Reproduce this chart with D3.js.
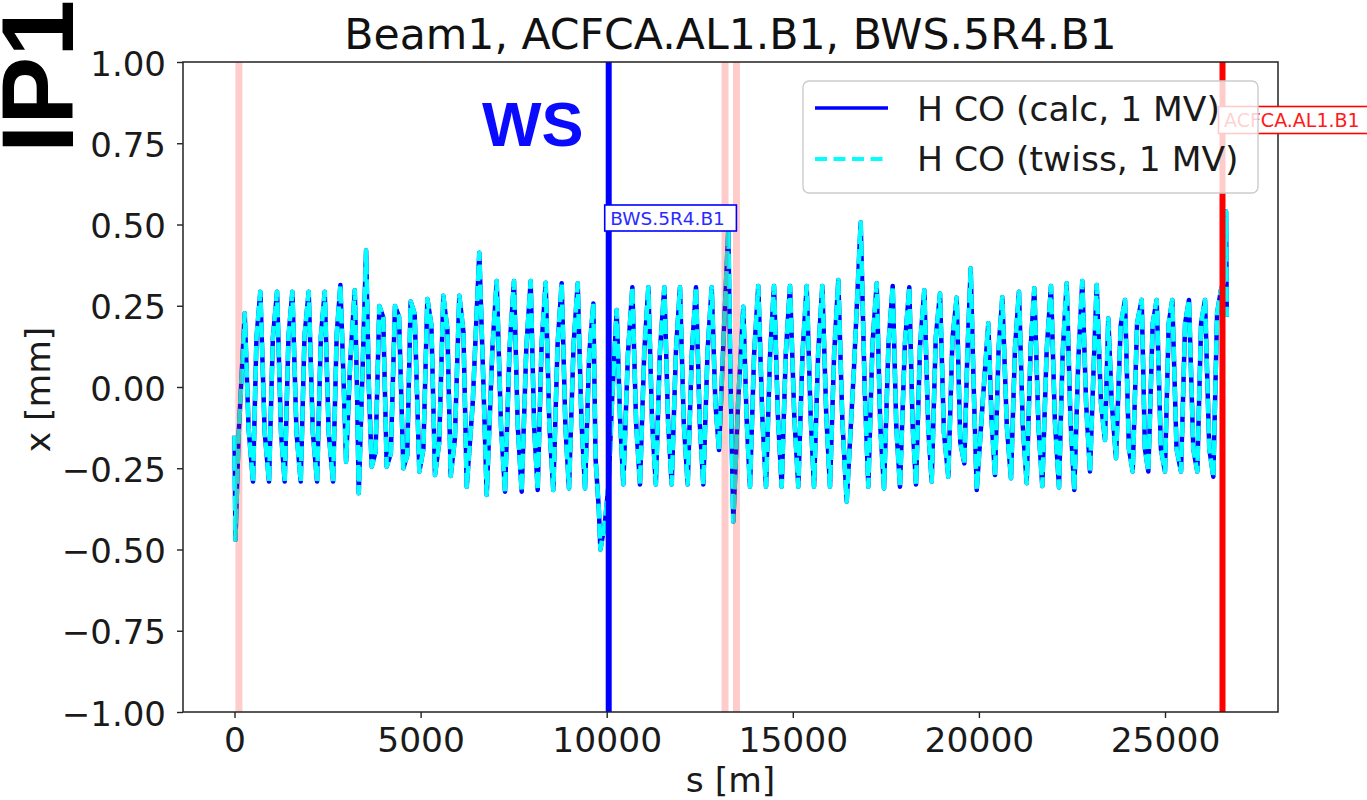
<!DOCTYPE html>
<html>
<head>
<meta charset="utf-8">
<script src="https://cdn.jsdelivr.net/npm/d3@7"></script>
<style>
  html, body { margin: 0; padding: 0; background: #fff; }
  svg { display: block; }
</style>
</head>
<body>
<svg id="chart" width="1367" height="800"></svg>
<script>
// Horizontal closed orbit of Beam 1, one array per LHC sector: [s (m), x (mm)]
const sector12 = [
  [0, -0.15], [25, -0.47], [110, -0.15], [274, 0.227], [380, -0.13], [497, -0.291],
  [590, 0.15], [694, 0.293], [811, -0.14], [927, -0.291], [1030, 0.15], [1143, 0.293],
  [1250, -0.14], [1348, -0.291], [1450, 0.155], [1555, 0.293], [1665, -0.14], [1779, -0.291],
  [1880, 0.155], [1993, 0.293], [2105, -0.14], [2218, -0.291], [2320, 0.155], [2424, 0.293],
  [2530, -0.14], [2648, -0.291], [2745, 0.16], [2845, 0.314], [2930, 0.02], [2998, -0.23],
  [3110, 0.08], [3231, 0.298], [3290, 0.0], [3338, -0.327], [3440, 0.05], [3535, 0.42]
];
const sector23 = [
  [3610, 0.0], [3686, -0.245], [3790, -0.2], [3892, 0.249], [3995, 0.215], [4089, -0.245],
  [4200, -0.205], [4312, 0.249], [4420, 0.216], [4536, -0.25], [4640, -0.21], [4733, 0.263],
  [4840, 0.225], [4966, -0.26], [5075, -0.19], [5181, 0.271], [5290, 0.19], [5387, -0.271],
  [5500, -0.17], [5610, 0.281], [5720, 0.175], [5809, -0.274], [5920, -0.16], [6040, 0.281],
  [6150, 0.17], [6239, -0.307], [6400, -0.05], [6577, 0.413]
];
const sector34 = [
  [6690, 0.0], [6776, -0.332], [6930, 0.12], [7044, 0.326], [7160, -0.12], [7268, -0.322],
  [7390, 0.12], [7509, 0.326], [7610, -0.12], [7716, -0.322], [7840, 0.12], [7957, 0.326],
  [8050, -0.12], [8146, -0.317], [8250, 0.13], [8360, 0.321], [8460, -0.12], [8565, -0.317],
  [8680, 0.13], [8790, 0.319], [8890, -0.12], [8987, -0.312], [9110, 0.13], [9221, 0.319],
  [9320, -0.1], [9417, -0.312], [9530, 0.1], [9641, 0.257], [9700, -0.22], [9790, -0.38],
  [9830, -0.5]
];
const sector45 = [
  [9950, -0.42], [10050, -0.3], [10140, -0.05], [10268, 0.237], [10360, -0.1], [10446, -0.30],
  [10570, 0.1], [10689, 0.307], [10790, -0.11], [10894, -0.30], [11010, 0.11], [11119, 0.307],
  [11220, -0.11], [11320, -0.30], [11430, 0.11], [11549, 0.307], [11650, -0.11], [11746, -0.30],
  [11860, 0.11], [11969, 0.307], [12070, -0.11], [12176, -0.30], [12290, 0.11], [12399, 0.307],
  [12500, -0.11], [12595, -0.30], [12710, 0.11], [12821, 0.307], [12920, -0.05], [13017, -0.194],
  [13140, 0.15], [13267, 0.483], [13330, 0.0], [13401, -0.414], [13530, -0.05]
];
const sector56 = [
  [13670, 0.247], [13760, -0.1], [13850, -0.307], [13960, 0.1], [14073, 0.311], [14180, -0.09],
  [14280, -0.307], [14390, 0.1], [14495, 0.311], [14600, -0.09], [14701, -0.307], [14810, 0.1],
  [14925, 0.311], [15040, -0.09], [15148, -0.307], [15260, 0.1], [15373, 0.311], [15480, -0.09],
  [15570, -0.307], [15680, 0.1], [15793, 0.311], [15900, -0.09], [15999, -0.307], [16110, 0.1],
  [16223, 0.329], [16330, -0.1], [16448, -0.353], [16640, 0.05], [16824, 0.506], [16930, 0.0]
];
const sector67 = [
  [17029, -0.307], [17140, 0.13], [17254, 0.319], [17350, -0.12], [17450, -0.312], [17570, 0.13],
  [17684, 0.311], [17780, -0.12], [17880, -0.307], [18010, 0.13], [18130, 0.307], [18220, -0.12],
  [18310, -0.30], [18420, 0.13], [18533, 0.298], [18640, -0.13], [18732, -0.291], [18840, 0.15],
  [18955, 0.288], [19060, -0.14], [19178, -0.276], [19290, 0.15], [19403, 0.275], [19500, -0.17],
  [19608, -0.235], [19690, 0.1], [19779, 0.365], [19860, 0.0], [19941, -0.317], [20100, -0.05],
  [20253, 0.196], [20340, -0.1]
];
const sector78 = [
  [20432, -0.271], [20530, 0.12], [20629, 0.276], [20750, -0.12], [20862, -0.281], [20970, 0.12],
  [21077, 0.293], [21180, -0.12], [21284, -0.296], [21390, 0.12], [21489, 0.304], [21600, -0.12],
  [21703, -0.305], [21820, 0.11], [21937, 0.311], [22040, -0.1], [22152, -0.309], [22250, 0.1],
  [22358, 0.319], [22460, -0.1], [22563, -0.317], [22670, 0.08], [22778, 0.326], [22880, -0.05],
  [22985, -0.26], [23080, 0.05], [23165, 0.314], [23280, -0.05], [23388, -0.163], [23476, 0.211],
  [23570, -0.05]
];
const sector81 = [
  [23684, -0.219], [23810, 0.19], [23925, 0.268], [24030, -0.19], [24132, -0.26], [24250, 0.196],
  [24374, 0.268], [24460, -0.19], [24552, -0.26], [24670, 0.196], [24777, 0.268], [24890, -0.19],
  [24999, -0.26], [25100, 0.196], [25196, 0.268], [25310, -0.19], [25430, -0.26], [25540, 0.196],
  [25644, 0.268], [25760, -0.19], [25868, -0.26], [25970, 0.196], [26075, 0.268], [26190, -0.19],
  [26298, -0.276], [26400, 0.227], [26505, 0.3], [26600, 0.33], [26640, 0.54], [26659, 0.216]
];

// Series: orbit from the tracking calculation and from the twiss table
const seriesNames = ["H CO (calc, 1 MV)", "H CO (twiss, 1 MV)"];
const calcOrbit = [].concat(sector12, sector23, sector34, sector45, sector56, sector67, sector78, sector81);
const twissOrbit = calcOrbit;

// Highlighted elements
const elementNames = ["BWS.5R4.B1", "ACFCA.AL1.B1"];
const elementS = [10054, 26545];
const elementLabelX = [0.5, 0.8];
const regionS = [118, 13178, 13487];

// Axis settings
const sDomain = [-1384, 28036];
const xDomain = [-1, 1];
const sTicks = [0, 5000, 10000, 15000, 20000, 25000];
const xTicks = [-1, -0.75, -0.5, -0.25, 0, 0.25, 0.5, 0.75, 1];

const titleText = "Beam1, ACFCA.AL1.B1, BWS.5R4.B1";

// ---- drawing ----
const svg = d3.select("#chart");
const plot = { left: 183, right: 1278, top: 62, bottom: 712 };
const FONT = "'DejaVu Sans', sans-serif";
const BOLD = "'Liberation Sans', Arial, sans-serif";

const sx = d3.scaleLinear().domain(sDomain).range([plot.left, plot.right]);
const sy = d3.scaleLinear().domain(xDomain).range([plot.bottom, plot.top]);

svg.append("rect").attr("width", 1367).attr("height", 800).attr("fill", "#fff");

svg.append("defs").append("clipPath").attr("id", "plotClip")
  .append("rect")
  .attr("x", plot.left).attr("y", plot.top)
  .attr("width", plot.right - plot.left).attr("height", plot.bottom - plot.top);

const area = svg.append("g").attr("clip-path", "url(#plotClip)");

const line = d3.line().x(d => sx(d[0])).y(d => sy(d[1]));

area.append("path").datum(calcOrbit)
  .attr("d", line).attr("fill", "none")
  .attr("stroke", "#0000ff").attr("stroke-width", 4.5)
  .attr("stroke-linejoin", "round");

area.append("path").datum(twissOrbit)
  .attr("d", line).attr("fill", "none")
  .attr("stroke", "#00ffff").attr("stroke-width", 4.5)
  .attr("stroke-linejoin", "round")
  .attr("stroke-dasharray", "15,5");

// shaded element positions
area.selectAll("line.region").data(regionS).enter().append("line")
  .attr("class", "region")
  .attr("x1", d => sx(d)).attr("x2", d => sx(d))
  .attr("y1", plot.top).attr("y2", plot.bottom)
  .attr("stroke", "#ff0000").attr("stroke-opacity", 0.2).attr("stroke-width", 7);

const elementColors = ["#0000ff", "#ff0000"];
area.selectAll("line.element").data(elementS).enter().append("line")
  .attr("class", "element")
  .attr("x1", d => sx(d)).attr("x2", d => sx(d))
  .attr("y1", plot.top).attr("y2", plot.bottom)
  .attr("stroke", (d, i) => elementColors[i]).attr("stroke-width", 6);

// frame
svg.append("rect")
  .attr("x", plot.left).attr("y", plot.top)
  .attr("width", plot.right - plot.left).attr("height", plot.bottom - plot.top)
  .attr("fill", "none").attr("stroke", "#222").attr("stroke-width", 1.5);

// axes
const xAxis = d3.axisBottom(sx).tickValues(sTicks).tickSize(6).tickPadding(9)
  .tickFormat(d3.format("d"));
const gx = svg.append("g").attr("transform", `translate(0,${plot.bottom})`).call(xAxis);
gx.select(".domain").remove();
gx.selectAll(".tick line").attr("stroke", "#222").attr("stroke-width", 1.4);
gx.selectAll(".tick text")
  .attr("font-family", FONT).attr("font-size", 34.5).attr("fill", "#1a1a1a")
  .attr("dy", null).attr("y", 40);

const yFmt = d => (d < 0 ? "\u2212" : "") + Math.abs(d).toFixed(2);
const yAxis = d3.axisLeft(sy).tickValues(xTicks).tickSize(6).tickPadding(11)
  .tickFormat(yFmt);
const gy = svg.append("g").attr("transform", `translate(${plot.left},0)`).call(yAxis);
gy.select(".domain").remove();
gy.selectAll(".tick line").attr("stroke", "#222").attr("stroke-width", 1.4);
gy.selectAll(".tick text")
  .attr("font-family", FONT).attr("font-size", 34).attr("fill", "#1a1a1a")
  .attr("dy", null).attr("y", 13).attr("x", -17);

// axis labels
svg.append("text").attr("x", (plot.left + plot.right) / 2).attr("y", 792)
  .attr("text-anchor", "middle").attr("font-family", FONT).attr("font-size", 34.5)
  .attr("fill", "#1a1a1a").text("s [m]");
svg.append("text").attr("transform", "translate(50,389.5) rotate(-90)")
  .attr("text-anchor", "middle").attr("font-family", FONT).attr("font-size", 34.5)
  .attr("fill", "#1a1a1a").text("x [mm]");

// title
svg.append("text").attr("x", (plot.left + plot.right) / 2).attr("y", 49)
  .attr("text-anchor", "middle").attr("font-family", FONT).attr("font-size", 42.6)
  .attr("fill", "#111").text(titleText);

// element name tags
const tagColors = ["#2b2bff", "#ff1a1a"];
const tagSizes = [18.5, 19];
elementNames.forEach((name, i) => {
  const g = svg.append("g");
  const t = g.append("text")
    .attr("x", sx(elementS[i]) + 1.5).attr("y", sy(elementLabelX[i]))
    .attr("font-family", FONT).attr("font-size", tagSizes[i])
    .attr("fill", tagColors[i]).text(name);
  const b = t.node().getBBox();
  g.insert("rect", "text")
    .attr("x", b.x - 5.5).attr("y", b.y - 2.5)
    .attr("width", b.width + 17).attr("height", b.height + 5)
    .attr("fill", "#fff").attr("stroke", elementColors[i]).attr("stroke-width", 1.6);
});

// legend
const lg = svg.append("g");
lg.append("rect").attr("x", 803).attr("y", 81).attr("width", 455).attr("height", 112)
  .attr("rx", 6).attr("fill", "#fff").attr("fill-opacity", 0.8)
  .attr("stroke", "#cccccc").attr("stroke-width", 1.4);
lg.append("line").attr("x1", 815).attr("x2", 888).attr("y1", 108).attr("y2", 108)
  .attr("stroke", "#0000ff").attr("stroke-width", 3.5);
lg.append("line").attr("x1", 815).attr("x2", 888).attr("y1", 159).attr("y2", 159)
  .attr("stroke", "#00ffff").attr("stroke-width", 4).attr("stroke-dasharray", "12,6.5");
seriesNames.forEach((n, i) => {
  lg.append("text").attr("x", 917).attr("y", 120.5 + i * 50.5)
    .attr("font-family", FONT).attr("font-size", 34.5).attr("fill", "#1a1a1a").text(n);
});

// location annotations
svg.append("text").attr("x", 482).attr("y", 146)
  .attr("font-family", BOLD).attr("font-weight", "bold").attr("font-size", 63)
  .attr("fill", "#0a0aff").text("WS");
svg.append("text").attr("transform", "translate(73,153) rotate(-90)")
  .attr("font-family", BOLD).attr("font-weight", "bold").attr("font-size", 102)
  .attr("fill", "#000").text("IP1");
</script>
</body>
</html>
